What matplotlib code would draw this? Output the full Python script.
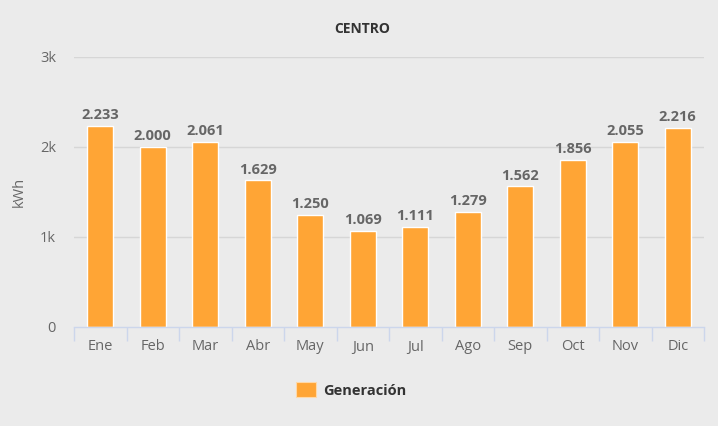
import matplotlib.pyplot as plt
import numpy as np
from matplotlib.patches import Patch

plt.rcParams['font.family'] = ['Open Sans', 'DejaVu Sans']

months = ['Ene', 'Feb', 'Mar', 'Abr', 'May', 'Jun', 'Jul', 'Ago', 'Sep', 'Oct', 'Nov', 'Dic']
generacion = [2233, 2000, 2061, 1629, 1250, 1069, 1111, 1279, 1562, 1856, 2055, 2216]
yticks = [0, 1000, 2000, 3000]
ytick_labels = ['0', '1k', '2k', '3k']

bg = '#ebebeb'
bar_color = '#ffa535'
axis_color = '#ccd6eb'

fig = plt.figure(figsize=(7.18, 4.26), dpi=100, facecolor=bg)
ax = fig.add_axes([74 / 718, 1 - 327 / 426, 630 / 718, 270 / 426])
ax.set_facecolor(bg)

x = np.arange(len(months))
bars = ax.bar(x, generacion, width=0.5, color=bar_color, edgecolor='white', linewidth=1, zorder=3)

# data labels with spanish thousands separator
for xi, v in zip(x, generacion):
    ax.text(xi, v + 40, f'{v:,}'.replace(',', '.'), ha='center', va='bottom',
            fontsize=10.5, fontweight='bold', color='#666666', zorder=4)

ax.set_xlim(-0.5, len(months) - 0.5)
ax.set_ylim(0, 3000)
ax.set_yticks(yticks)
ax.set_yticklabels(ytick_labels)
ax.set_xticks(x)
ax.set_xticklabels(months)
ax.tick_params(axis='y', length=0, pad=13, labelsize=10.5, labelcolor='#666666')
ax.tick_params(axis='x', length=0, pad=9, labelsize=10.5, labelcolor='#666666')

# category boundary ticks
ax.set_xticks(np.arange(-0.5, len(months)), minor=True)
ax.tick_params(axis='x', which='minor', length=10, width=1, color=axis_color, direction='out')

for yv in yticks[1:]:
    ax.axhline(yv, color='#d6d6d6', linewidth=1, zorder=1)

for s in ['top', 'right', 'left']:
    ax.spines[s].set_visible(False)
ax.spines['bottom'].set_color(axis_color)
ax.spines['bottom'].set_linewidth(1)
ax.spines['bottom'].set_zorder(5)

ax.set_ylabel('kWh', fontsize=10.5, color='#666666')
ax.yaxis.set_label_coords(-(74 - 27) / 630, 0.5)
fig.text(362 / 718, 1 - 29 / 426, 'CENTRO', ha='center', va='center',
         fontsize=10, fontweight='bold', color='#333333')

handle = Patch(facecolor=bar_color, edgecolor='#ffd9a8', linewidth=0.8)
fig.legend([handle], ['Generación'], loc='center', bbox_to_anchor=(351 / 718, 1 - 390 / 426),
           frameon=False, handlelength=1.35, handleheight=1.2,
           handletextpad=0.5, labelcolor='#333333', prop={'weight': 'bold', 'size': 10.5})

fig.savefig('out.png', dpi=100, facecolor=bg)
